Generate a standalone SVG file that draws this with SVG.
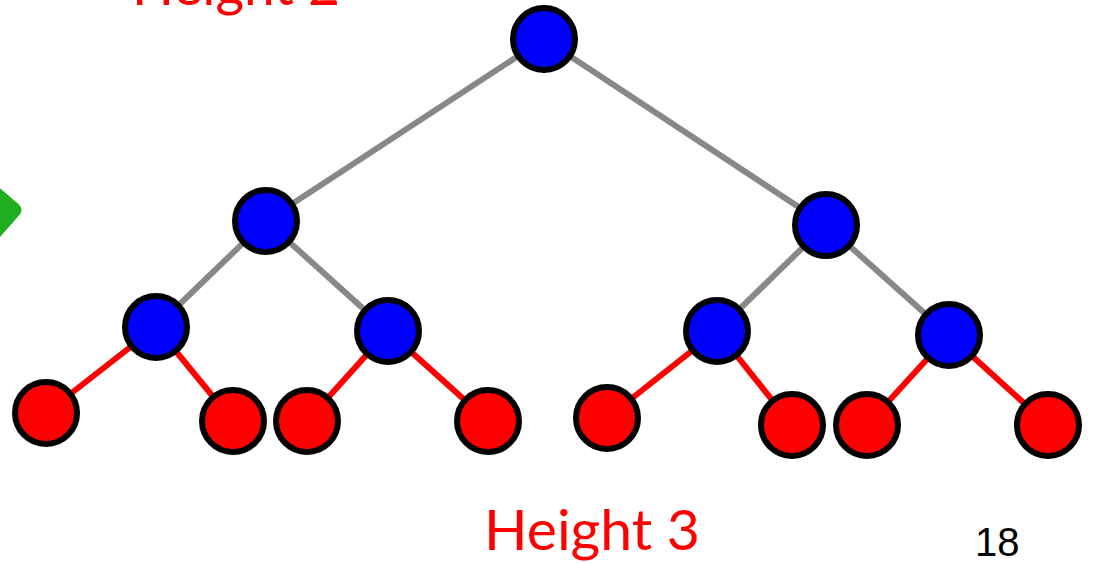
<svg xmlns="http://www.w3.org/2000/svg" width="1095" height="563" viewBox="0 0 1095 563">
<style>
.inner{fill:#0000ff;stroke:#000;stroke-width:6}
.leaf{fill:#ff0000;stroke:#000;stroke-width:6}
.g{stroke:#888;stroke-width:6;fill:none}
.r{stroke:#ff0000;stroke-width:6;fill:none}
.lbl{font-family:"Comic Sans MS","Lato",sans-serif;font-size:56px;fill:#ff0000}
.num{font-family:"Liberation Sans",Arial,sans-serif;font-size:40px;fill:#000}
</style>
<rect width="1095" height="563" fill="#fff"/>
<path d="M-4,186 L18,205 Q23,210 18,215 L-4,240 Z" fill="#1fae1f" stroke="#1fae1f" stroke-width="2" stroke-linejoin="round"/>
<text class="lbl" x="132" y="5" textLength="208" lengthAdjust="spacingAndGlyphs">Height 2</text>
<g id="connectors">
<line class="g" x1="544" y1="39" x2="266" y2="221"/>
<line class="g" x1="544" y1="39" x2="826" y2="225"/>
<line class="g" x1="266" y1="221" x2="156" y2="327"/>
<line class="g" x1="266" y1="221" x2="388" y2="331"/>
<line class="g" x1="826" y1="225" x2="717" y2="331"/>
<line class="g" x1="826" y1="225" x2="949" y2="335"/>
<line class="r" x1="156" y1="327" x2="46" y2="413"/>
<line class="r" x1="156" y1="327" x2="233" y2="421"/>
<line class="r" x1="388" y1="331" x2="307" y2="421"/>
<line class="r" x1="388" y1="331" x2="488" y2="421"/>
<line class="r" x1="717" y1="331" x2="607" y2="418"/>
<line class="r" x1="717" y1="331" x2="792" y2="425"/>
<line class="r" x1="949" y1="335" x2="867" y2="425"/>
<line class="r" x1="949" y1="335" x2="1048" y2="425"/>
</g>
<g id="n-root"><circle class="inner" cx="544" cy="39" r="31"/></g>
<g id="n-l"><circle class="inner" cx="266" cy="221" r="31"/></g>
<g id="n-r"><circle class="inner" cx="826" cy="225" r="31"/></g>
<g id="n-ll"><circle class="inner" cx="156" cy="327" r="31"/></g>
<g id="n-lr"><circle class="inner" cx="388" cy="331" r="31"/></g>
<g id="n-rl"><circle class="inner" cx="717" cy="331" r="31"/></g>
<g id="n-rr"><circle class="inner" cx="949" cy="335" r="31"/></g>
<g id="leaf1"><circle class="leaf" cx="46" cy="413" r="31"/></g>
<g id="leaf2"><circle class="leaf" cx="233" cy="421" r="31"/></g>
<g id="leaf3"><circle class="leaf" cx="307" cy="421" r="31"/></g>
<g id="leaf4"><circle class="leaf" cx="488" cy="421" r="31"/></g>
<g id="leaf5"><circle class="leaf" cx="607" cy="418" r="31"/></g>
<g id="leaf6"><circle class="leaf" cx="792" cy="425" r="31"/></g>
<g id="leaf7"><circle class="leaf" cx="867" cy="425" r="31"/></g>
<g id="leaf8"><circle class="leaf" cx="1048" cy="425" r="31"/></g>
<text class="lbl" x="484" y="550" textLength="216" lengthAdjust="spacingAndGlyphs">Height 3</text>
<text class="num" x="975" y="556">18</text>
</svg>
